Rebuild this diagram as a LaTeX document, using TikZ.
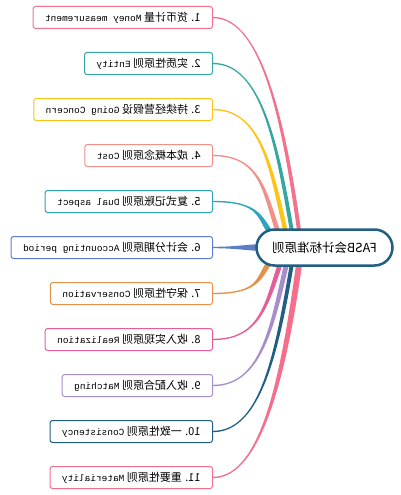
\documentclass[tikz,border=0pt]{standalone}
\usepackage{fontspec}
\usepackage{graphicx}
\newfontfamily\cjk{Noto Sans CJK SC}
\setmonofont{Liberation Mono}[Scale=0.86]
\usetikzlibrary{calc,backgrounds}
\definecolor{cA}{HTML}{F2718D}
\definecolor{cB}{HTML}{35A7A2}
\definecolor{cC}{HTML}{FCC419}
\definecolor{cD}{HTML}{EF9188}
\definecolor{cE}{HTML}{2EA3BC}
\definecolor{cF}{HTML}{5B7EC6}
\definecolor{cG}{HTML}{E29349}
\definecolor{cH}{HTML}{E55E98}
\definecolor{cI}{HTML}{A78ECB}
\definecolor{cJ}{HTML}{215E84}
\definecolor{cK}{HTML}{F56F8C}
\newcommand{\mir}[1]{\reflectbox{#1}}
\tikzset{
  leafbox/.style={draw, line width=1pt, rounded corners=2.5pt, fill=white, anchor=east,
    minimum height=22pt, inner xsep=12pt, font=\cjk\fontsize{11}{13}\selectfont},
  rootbox/.style={draw=cJ, line width=2.5pt, rounded corners=18pt, fill=white,
    minimum width=136pt, minimum height=36pt, font=\cjk\fontsize{12.5}{15}\selectfont}
}
\begin{document}
\begin{tikzpicture}[x=1pt,y=-1pt]
	\useasboundingbox (0,0) rectangle (400,495);
	\node[rootbox] (root) at (324.5,247.5) {\mir{FASB会计标准原则}};
	% the eleven principles
	\foreach \i/\c/\zh/\en in {1/cA/货币计量/Money measurement, 2/cB/实质性原则/Entity,
	  3/cC/持续经营假设/Going Concern, 4/cD/成本概念原则/Cost, 5/cE/复式记账原则/Dual aspect,
	  6/cF/会计分期原则/Accounting period, 7/cG/保守性原则/Conservation,
	  8/cH/收入实现原则/Realization, 9/cI/收入配合原则/Matching,
	  10/cJ/一致性原则/Consistency, 11/cK/重要性原则/Materiality}
	  \node[leafbox, draw=\c] (b\i) at (213,{17.5+46*(\i-1)}) {\mir{\i. \zh\ \texttt{\en}}};
	% tapered branches
	\begin{scope}[on background layer]
	\foreach \i/\c/\ex/\s/\w in {1/cA/-24.5/1/2, 2/cB/-31.5/1/2, 3/cC/-37.5/1/2.3, 4/cD/-44.5/1/2.5,
	  5/cE/-50.5/1/3.2, 7/cG/-51.5/-1/3.2, 8/cH/-42/-1/2.5, 9/cI/-36.5/-1/2.5, 10/cJ/-31.5/-1/2,
	  11/cK/-24.5/-1/3}{
	  \pgfmathsetmacro\cy{-(247.5-10*\s-(17.5+46*(\i-1)))/2}
	  \fill[\c] ($(b\i.east)+(0,-0.7*\s)$) .. controls +(50,0) and +(-15,\cy) .. ($(root.center)+(\ex+\w,-10*\s)$)
	    -- ($(root.center)+(\ex-\w,-10*\s)$) .. controls +(-15,\cy) and +(50,0) .. ($(b\i.east)+(0,0.7*\s)$) -- cycle;
	}
	\fill[cF] ($(b6.east)+(0,-0.7)$) .. controls +(25,0) and +(-20,0) .. ($(root.west)+(12,-3.5)$)
	  -- ($(root.west)+(12,3.5)$) .. controls +(-20,0) and +(25,0) .. ($(b6.east)+(0,0.7)$) -- cycle;
	\end{scope}
\end{tikzpicture}
\end{document}
